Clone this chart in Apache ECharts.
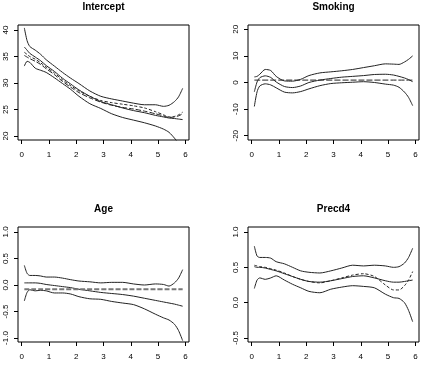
<!DOCTYPE html>
<html>
<head>
<meta charset="utf-8">
<script src="https://cdn.jsdelivr.net/npm/echarts@6/dist/echarts.min.js"></script>
<style>
  html, body { margin: 0; padding: 0; background: #fff; }
  #main { width: 423px; height: 369px; }
</style>
</head>
<body>
<div id="main"></div>
<script>
// time points shared by all curves
var times = [0.1, 0.2, 0.3, 0.5, 0.7, 0.9, 1.2, 1.5, 1.8, 2.1, 2.5, 2.9, 3.3, 3.7, 4.1, 4.5, 4.9, 5.2, 5.4, 5.6, 5.75, 5.9];

// Intercept
var interceptUpper = [40.4, 38.0, 36.9, 36.2, 35.4, 34.4, 33.2, 32.0, 30.9, 29.9, 28.5, 27.5, 27.0, 26.6, 26.2, 25.9, 25.9, 25.6, 25.8, 26.5, 27.4, 29.0];
var interceptLower = [33.2, 34.1, 33.9, 32.8, 32.4, 32.0, 31.0, 29.9, 28.8, 27.5, 26.1, 25.2, 24.2, 23.5, 23.0, 22.5, 21.9, 21.3, 20.7, 19.6, 18.6, 17.5];
var interceptEst = [36.8, 36.2, 35.6, 34.9, 34.2, 33.3, 32.2, 30.9, 29.8, 28.7, 27.5, 26.5, 25.9, 25.3, 24.8, 24.4, 23.9, 23.6, 23.4, 23.3, 23.2, 23.1];
var interceptDash = [35.8, 35.4, 35.0, 34.5, 33.8, 33.0, 31.9, 30.6, 29.5, 28.5, 27.5, 26.7, 26.3, 26.0, 25.7, 25.3, 24.6, 24.0, 23.6, 23.7, 24.0, 24.5];
var interceptDash2 = [35.2, 34.9, 34.6, 34.1, 33.5, 32.7, 31.6, 30.3, 29.2, 28.2, 27.2, 26.4, 25.8, 25.4, 25.1, 24.7, 24.2, 23.8, 23.5, 23.6, 23.8, 24.2];

// Smoking
var smokingUpper = [2.1, 2.3, 3.1, 4.9, 4.5, 2.3, 0.6, 0.5, 1.2, 2.6, 3.6, 4.0, 4.4, 4.9, 5.6, 6.3, 7.0, 6.9, 6.8, 7.7, 8.7, 10.0];
var smokingEst = [-3.5, 0.2, 1.8, 2.5, 1.9, 0.2, -1.5, -1.9, -1.3, 0.0, 0.9, 1.5, 2.0, 2.3, 2.6, 3.0, 3.1, 2.8, 2.3, 1.7, 1.1, 0.3];
var smokingLower = [-9.0, -3.5, -1.3, -0.5, -0.9, -2.0, -3.6, -3.9, -3.4, -2.4, -1.2, -0.4, -0.1, 0.1, 0.3, 0.0, -0.6, -1.0, -1.8, -3.6, -5.6, -8.7];
var smokingRef = 0.9;

// Age
var ageUpper = [0.37, 0.22, 0.18, 0.18, 0.17, 0.15, 0.15, 0.13, 0.10, 0.075, 0.06, 0.04, 0.05, 0.05, 0.02, 0.0, 0.02, 0.01, -0.02, 0.04, 0.13, 0.29];
var ageEst = [0.04, 0.04, 0.04, 0.04, 0.03, 0.01, -0.01, -0.03, -0.05, -0.08, -0.11, -0.14, -0.16, -0.18, -0.21, -0.25, -0.29, -0.32, -0.34, -0.36, -0.38, -0.40];
var ageLower = [-0.30, -0.14, -0.09, -0.11, -0.10, -0.11, -0.15, -0.15, -0.17, -0.22, -0.26, -0.27, -0.31, -0.34, -0.37, -0.45, -0.55, -0.62, -0.66, -0.74, -0.86, -1.05];
var ageRef = -0.08;

// Precd4
var precdUpper = [0.80, 0.66, 0.64, 0.64, 0.63, 0.58, 0.55, 0.50, 0.45, 0.43, 0.42, 0.45, 0.49, 0.53, 0.52, 0.53, 0.52, 0.50, 0.51, 0.56, 0.64, 0.77];
var precdEst = [0.51, 0.50, 0.50, 0.49, 0.47, 0.45, 0.41, 0.37, 0.33, 0.30, 0.29, 0.31, 0.34, 0.37, 0.38, 0.35, 0.31, 0.29, 0.29, 0.30, 0.31, 0.32];
var precdDash = [0.53, 0.52, 0.51, 0.50, 0.48, 0.46, 0.42, 0.37, 0.33, 0.30, 0.28, 0.31, 0.35, 0.39, 0.41, 0.37, 0.25, 0.18, 0.18, 0.24, 0.32, 0.44];
var precdLower = [0.20, 0.32, 0.35, 0.33, 0.35, 0.38, 0.32, 0.26, 0.21, 0.16, 0.14, 0.19, 0.22, 0.24, 0.23, 0.21, 0.12, 0.07, 0.06, 0.00, -0.11, -0.27];

// tick labels
var xTicks = [0, 1, 2, 3, 4, 5, 6];
var interceptTicks = [20, 25, 30, 35, 40];
var smokingTicks = [-20, -10, 0, 10, 20];
var ageTicks = [-1, -0.5, 0, 0.5, 1];
var precdTicks = [-0.5, 0, 0.5, 1];

function pts(ys) {
    return times.map(function (t, i) { return [t, ys[i]]; });
}
function flat(v) {
    return [[times[0], v], [times[times.length - 1], v]];
}

var panels = [
    { title: 'Intercept', left: 18, top: 25, width: 171, min: 19.25, max: 40.95, ticks: interceptTicks, dec: 0,
      lines: [
        { d: pts(interceptUpper) }, { d: pts(interceptLower) }, { d: pts(interceptEst) },
        { d: pts(interceptDash), dash: [3, 2] }, { d: pts(interceptDash2), dash: [5, 2] }
      ] },
    { title: 'Smoking', left: 248, top: 25, width: 171, min: -21.6, max: 21.6, ticks: smokingTicks, dec: 0,
      lines: [
        { d: pts(smokingUpper) }, { d: pts(smokingEst) }, { d: pts(smokingLower) },
        { d: flat(smokingRef), dash: [6, 2] }
      ] },
    { title: 'Age', left: 18, top: 227, width: 171, min: -1.075, max: 1.094, ticks: ageTicks, dec: 1,
      lines: [
        { d: pts(ageUpper) }, { d: pts(ageEst) }, { d: pts(ageLower) },
        { d: flat(ageRef), dash: [5, 2], color: '#777', width: 2 }
      ] },
    { title: 'Precd4', left: 248, top: 227, width: 171, min: -0.557, max: 1.071, ticks: precdTicks, dec: 1,
      lines: [
        { d: pts(precdUpper) }, { d: pts(precdEst) }, { d: pts(precdLower) },
        { d: pts(precdDash), dash: [3, 2] }
      ] }
];

var font = 'Liberation Sans, Arial, sans-serif';
var option = { animation: false, title: [], grid: [], xAxis: [], yAxis: [], series: [] };

panels.forEach(function (p, k) {
    option.title.push({
        text: p.title, left: p.left + p.width / 2, top: p.top - 23, textAlign: 'center', padding: 0,
        textStyle: { fontFamily: font, fontSize: 10, fontWeight: 'bold', color: '#000' }
    });
    option.grid.push({
        left: p.left, top: p.top, width: p.width, height: 115,
        show: true, borderColor: '#000', borderWidth: 1, backgroundColor: 'transparent'
    });
    option.xAxis.push({
        type: 'value', gridIndex: k, min: -0.132, max: 6.132,
        axisLine: { show: false, onZero: false }, splitLine: { show: false },
        axisTick: { show: true, length: 4, customValues: xTicks, lineStyle: { color: '#000' } },
        axisLabel: { customValues: xTicks, margin: 11, fontSize: 8, fontFamily: font, color: '#000' }
    });
    option.yAxis.push({
        type: 'value', gridIndex: k, min: p.min, max: p.max,
        axisLine: { show: false, onZero: false }, splitLine: { show: false },
        axisTick: { show: true, length: 4, customValues: p.ticks, lineStyle: { color: '#000' } },
        axisLabel: {
            customValues: p.ticks, rotate: 90, margin: 8, fontSize: 8, fontFamily: font, color: '#000',
            formatter: function (v) { return Number(v).toFixed(p.dec); }
        }
    });
    p.lines.forEach(function (l) {
        option.series.push({
            type: 'line', xAxisIndex: k, yAxisIndex: k, data: l.d, showSymbol: false, symbol: 'none',
            smooth: 0.25, clip: true, silent: true,
            lineStyle: { color: l.color || '#222', width: l.width || 1, type: l.dash || 'solid' }
        });
    });
});

var chart = echarts.init(document.getElementById('main'));
chart.setOption(option);
</script>
</body>
</html>
